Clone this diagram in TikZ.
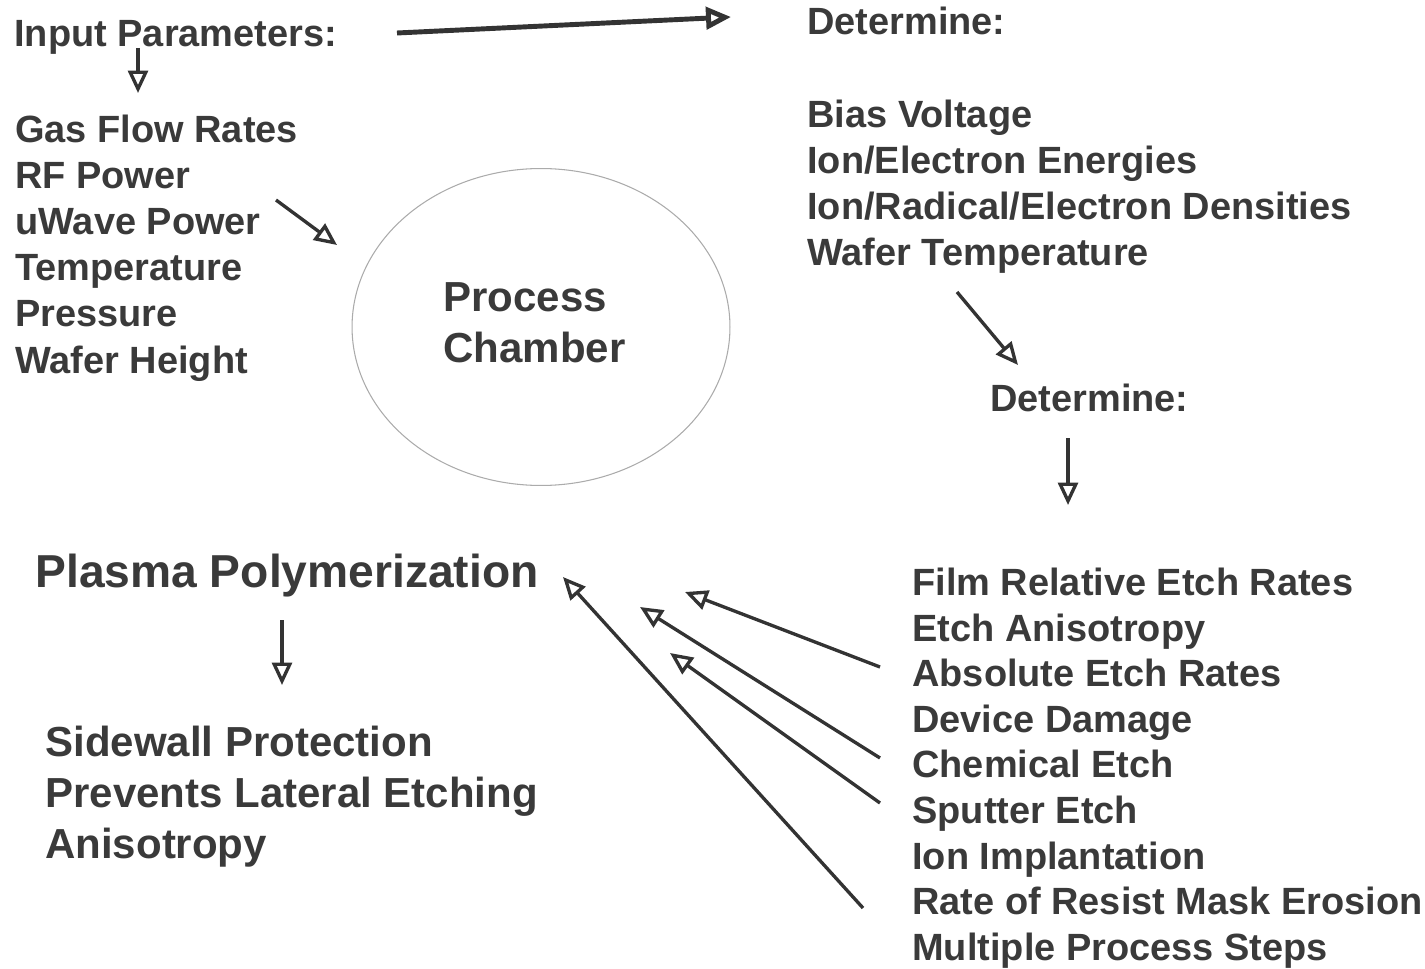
\documentclass[tikz,border=0pt]{standalone}
\usepackage{fontspec}
\setmainfont{Liberation Sans}
\usetikzlibrary{arrows.meta,shapes.geometric}
\definecolor{txtgray}{HTML}{3A3A3A}
\definecolor{arrgray}{HTML}{333333}
\definecolor{rimgray}{HTML}{ABABAB}

\begin{document}
\begin{tikzpicture}[x=0.02cm, y=-0.02cm,
    txt/.style={anchor=base west, inner sep=0pt, align=left, text=txtgray,
      font=\bfseries\fontsize{21.6}{26.2}\selectfont},
    bigtxt/.style={txt, font=\bfseries\fontsize{23.9}{29}\selectfont},
    arr/.style={draw=arrgray, line width=1.9pt,
      -{Triangle[open, length=0.45cm, width=0.4cm]}},
    bigarr/.style={arr, line width=2.8pt,
      -{Triangle[open, length=0.5cm, width=0.44cm]}}]
  \useasboundingbox (0,0) rectangle (1425,969);

  % Input side (base anchor = last line)
  \node[txt] (input) at (14,47) {Input Parameters:};
  \node[txt] (params) at (15,373) {Gas Flow Rates\\RF Power\\uWave Power\\Temperature\\Pressure\\Wafer Height};

  % Chamber
  \node[draw=rimgray, line width=0.6pt, ellipse, minimum width=7.56cm, minimum height=6.34cm] (chamber) at (541,327) {};
  \node[bigtxt] (chamberlbl) at (443,362) {Process\\Chamber};

  % Plasma properties
  \node[txt] (det1) at (807,35) {Determine:};
  \node[txt] (plasma) at (807,266) {Bias Voltage\\Ion/Electron Energies\\Ion/Radical/Electron Densities\\Wafer Temperature};
  \node[txt] (det2) at (990,411) {Determine:};

  % Etch results
  \node[txt, font=\bfseries\fontsize{21.6}{25.9}\selectfont] (etch) at (912,960) {Film Relative Etch Rates\\Etch Anisotropy\\Absolute Etch Rates\\Device Damage\\Chemical Etch\\Sputter Etch\\Ion Implantation\\Rate of Resist Mask Erosion\\Multiple Process Steps};

  % Polymerization
  \node[txt, font=\bfseries\fontsize{26.3}{30}\selectfont] (poly) at (35,587) {Plasma Polymerization};
  \node[bigtxt] (side) at (45,858) {Sidewall Protection\\Prevents Lateral Etching\\Anisotropy};

  % Arrow ends
  \coordinate (topS) at (397,33);   \coordinate (topE) at (731,17);
  \coordinate (inS) at (138,48);    \coordinate (inE) at (138,93);
  \coordinate (uwS) at (276,200);   \coordinate (uwE) at (337,245);
  \coordinate (wtS) at (957,292);   \coordinate (wtE) at (1018,365);
  \coordinate (dS) at (1068,438);   \coordinate (dE) at (1068,505);
  \coordinate (pS) at (282,620);    \coordinate (pE) at (282,685);
  \coordinate (e1S) at (880,667);   \coordinate (e1E) at (685,592);
  \coordinate (e2S) at (880,758);   \coordinate (e2E) at (640,607);
  \coordinate (e3S) at (880,803);   \coordinate (e3E) at (670,653);
  \coordinate (e4S) at (863,908);   \coordinate (e4E) at (563,577);

  % Arrows
  \draw[bigarr] (topS) -- (topE);
  \draw[arr] (inS) -- (inE);
  \draw[arr] (uwS) -- (uwE);
  \draw[arr] (wtS) -- (wtE);
  \draw[arr] (dS) -- (dE);
  \draw[arr] (pS) -- (pE);
  \draw[arr] (e1S) -- (e1E);
  \draw[arr] (e2S) -- (e2E);
  \draw[arr] (e3S) -- (e3E);
  \draw[arr] (e4S) -- (e4E);
\end{tikzpicture}
\end{document}
